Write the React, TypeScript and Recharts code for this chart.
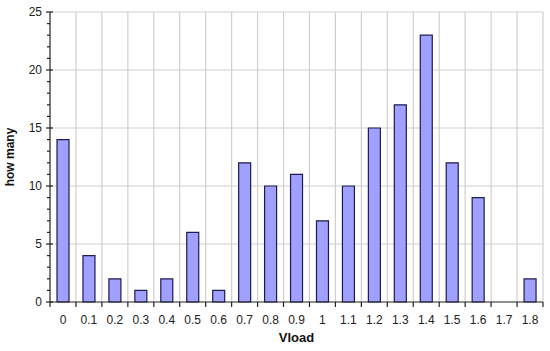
import React from "react"
import { BarChart, Bar, XAxis, YAxis, CartesianGrid, Label } from "recharts"

// Histogram of Vload values
const categories = ["0", "0.1", "0.2", "0.3", "0.4", "0.5", "0.6", "0.7", "0.8", "0.9", "1", "1.1", "1.2", "1.3", "1.4", "1.5", "1.6", "1.7", "1.8"]
const counts = [14, 4, 2, 1, 2, 6, 1, 12, 10, 11, 7, 10, 15, 17, 23, 12, 9, 0, 2]
const yTicks = Array.from({ length: 26 }, (_, i) => i)

const chartData = categories.map((c, i) => ({ vload: c, count: counts[i] }))

const FONT = "'Liberation Sans', Arial, sans-serif"

const XTick = ({ x, y, payload, index }: any) => {
  const half = payload?.offset ?? 13
  const last = index === categories.length - 1
  return (
    <g>
      <line x1={x - half} y1={y - 8} x2={x - half} y2={y - 3} stroke="#222" strokeWidth={1.2} />
      {last && <line x1={x + half} y1={y - 8} x2={x + half} y2={y - 3} stroke="#222" strokeWidth={1.2} />}
      <text x={x} y={y + 14} textAnchor="middle" fontSize={12} fill="#222" fontFamily={FONT}>
        {payload.value}
      </text>
    </g>
  )
}

const YTick = ({ x, y, payload }: any) => {
  const major = payload.value % 5 === 0
  return (
    <g>
      <line x1={x + 8 - (major ? 4 : 3)} y1={y} x2={x + 8 + (major ? 3 : 0)} y2={y} stroke="#222" strokeWidth={1.2} />
      {major && (
        <text x={x} y={y + 4} textAnchor="end" fontSize={12} fill="#222" fontFamily={FONT}>
          {payload.value}
        </text>
      )}
    </g>
  )
}

export default function App() {
  return (
    <div style={{ position: "absolute", left: 0, top: 0, background: "#fff" }}>
      <BarChart
        width={550}
        height={351}
        data={chartData}
        margin={{ top: 12, right: 7, left: 0, bottom: 0 }}
        barCategoryGap="27%"
      >
        <CartesianGrid
          stroke="#cfcfcf"
          strokeWidth={1.2}
          horizontalValues={[5, 10, 15, 20, 25]}
          verticalCoordinatesGenerator={({ offset }: any) =>
            categories.map((_, i) => offset.left + ((i + 1) * offset.width) / categories.length)
          }
        />
        <XAxis
          dataKey="vload"
          interval={0}
          tickLine={false}
          tick={<XTick />}
          axisLine={{ stroke: "#222", strokeWidth: 1.2 }}
          height={49}
        >
          <Label value="Vload" position="insideBottom" offset={9} fontSize={13} fontWeight="bold" fill="#111" fontFamily={FONT} />
        </XAxis>
        <YAxis
          domain={[0, 25]}
          ticks={yTicks}
          interval={0}
          width={50}
          tickLine={false}
          tick={<YTick />}
          axisLine={{ stroke: "#222", strokeWidth: 1.2 }}
        >
          <Label value="how many" angle={-90} position="center" dx={-15} fontSize={12} fontWeight="bold" fill="#111" fontFamily={FONT} />
        </YAxis>
        <Bar dataKey="count" fill="#a0a0ff" stroke="#1c1c50" strokeWidth={1.2} isAnimationActive={false} />
      </BarChart>
    </div>
  )
}
